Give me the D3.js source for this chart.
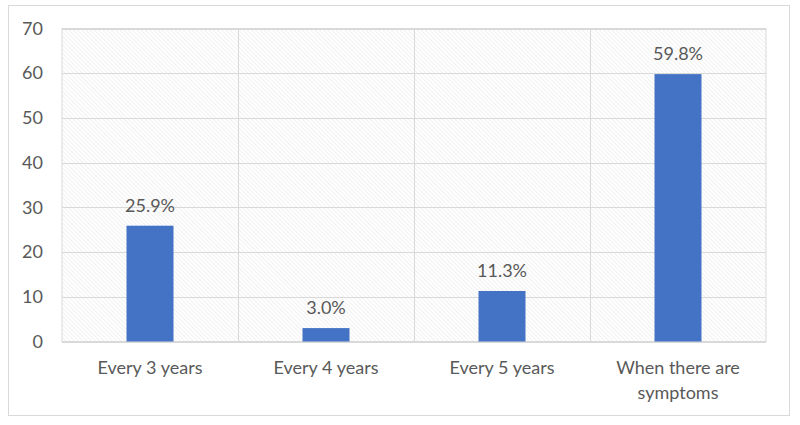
<!DOCTYPE html>
<html>
<head>
<meta charset="utf-8">
<script src="https://cdn.jsdelivr.net/npm/d3@7"></script>
<style>
  body { margin: 0; background: #fff; }
  text { font-family: Lato, "Open Sans", sans-serif; fill: #595959; }
</style>
</head>
<body>
<div id="chart"></div>
<script>
// chart data
var categories = ["Every 3 years", "Every 4 years", "Every 5 years", "When there are symptoms"];
var values = [25.9, 3.0, 11.3, 59.8];
var yTicks = [0, 10, 20, 30, 40, 50, 60, 70];

var W = 800, H = 425;
var plot = { left: 62, top: 28.5, right: 766, bottom: 341.5 };
var fontSize = "18px";

var svg = d3.select("#chart").append("svg")
  .attr("width", W)
  .attr("height", H);

// fine diagonal hatch for the plot area
var pat = svg.append("defs").append("pattern")
  .attr("id", "hatch")
  .attr("patternUnits", "userSpaceOnUse")
  .attr("width", 3).attr("height", 3)
  .attr("patternTransform", "rotate(-45)");
pat.append("rect").attr("width", 3).attr("height", 3).attr("fill", "#ffffff");
pat.append("line")
  .attr("x1", 0).attr("y1", 0).attr("x2", 0).attr("y2", 3)
  .attr("stroke", "#e4e4e4").attr("stroke-width", 1);

// outer chart border
svg.append("rect")
  .attr("x", 8.5).attr("y", 5.5)
  .attr("width", 781).attr("height", 410)
  .attr("fill", "none")
  .attr("stroke", "#d9d9d9");

var x = d3.scaleBand()
  .domain(categories)
  .range([plot.left, plot.right])
  .paddingInner(0).paddingOuter(0);

var y = d3.scaleLinear()
  .domain([0, 70])
  .range([plot.bottom, plot.top]);

svg.append("rect")
  .attr("x", plot.left).attr("y", plot.top)
  .attr("width", plot.right - plot.left)
  .attr("height", plot.bottom - plot.top)
  .attr("fill", "url(#hatch)")
  .attr("stroke", "#d9d9d9");

// horizontal gridlines
svg.selectAll(".hgrid")
  .data(yTicks)
  .enter().append("line")
  .attr("class", "hgrid")
  .attr("x1", plot.left).attr("x2", plot.right)
  .attr("y1", function(d) { return Math.round(y(d)) + 0.5; })
  .attr("y2", function(d) { return Math.round(y(d)) + 0.5; })
  .attr("stroke", "#d9d9d9");

// vertical gridlines between categories
svg.selectAll(".vgrid")
  .data(categories.slice(1))
  .enter().append("line")
  .attr("class", "vgrid")
  .attr("x1", function(d) { return Math.round(x(d)) + 0.5; })
  .attr("x2", function(d) { return Math.round(x(d)) + 0.5; })
  .attr("y1", plot.top).attr("y2", plot.bottom)
  .attr("stroke", "#d9d9d9");

// y axis labels
var yAxis = d3.axisLeft(y).tickValues(yTicks).tickSize(0).tickPadding(19);
var gy = svg.append("g")
  .attr("transform", "translate(" + plot.left + ",0)")
  .call(yAxis);
gy.select(".domain").remove();
gy.selectAll("text")
  .style("font-size", fontSize)
  .style("font-family", "Lato, 'Open Sans', sans-serif")
  .attr("fill", "#595959");

// bars
var barW = x.bandwidth() * 0.267;
svg.selectAll(".bar")
  .data(values)
  .enter().append("rect")
  .attr("class", "bar")
  .attr("x", function(d, i) { return x(categories[i]) + x.bandwidth() / 2 - barW / 2; })
  .attr("y", function(d) { return y(d); })
  .attr("width", barW)
  .attr("height", function(d) { return y(0) - y(d); })
  .attr("fill", "#4472c4");

// data labels
svg.selectAll(".lbl")
  .data(values)
  .enter().append("text")
  .attr("class", "lbl")
  .attr("x", function(d, i) { return x(categories[i]) + x.bandwidth() / 2; })
  .attr("y", function(d) { return y(d) - 14; })
  .attr("text-anchor", "middle")
  .style("font-size", fontSize)
  .text(function(d) { return d.toFixed(1) + "%"; });

// category labels, wrapped like the original
var wrap = {
  "When there are symptoms": ["When there are", "symptoms"]
};
svg.selectAll(".cat")
  .data(categories)
  .enter().append("text")
  .attr("class", "cat")
  .attr("text-anchor", "middle")
  .attr("y", plot.bottom + 32)
  .style("font-size", fontSize)
  .each(function(d) {
    var lines = wrap[d] || [d];
    var t = d3.select(this);
    var cx = x(d) + x.bandwidth() / 2;
    lines.forEach(function(s, i) {
      t.append("tspan").attr("x", cx).attr("dy", i === 0 ? 0 : 25).text(s);
    });
  });
</script>
</body>
</html>
